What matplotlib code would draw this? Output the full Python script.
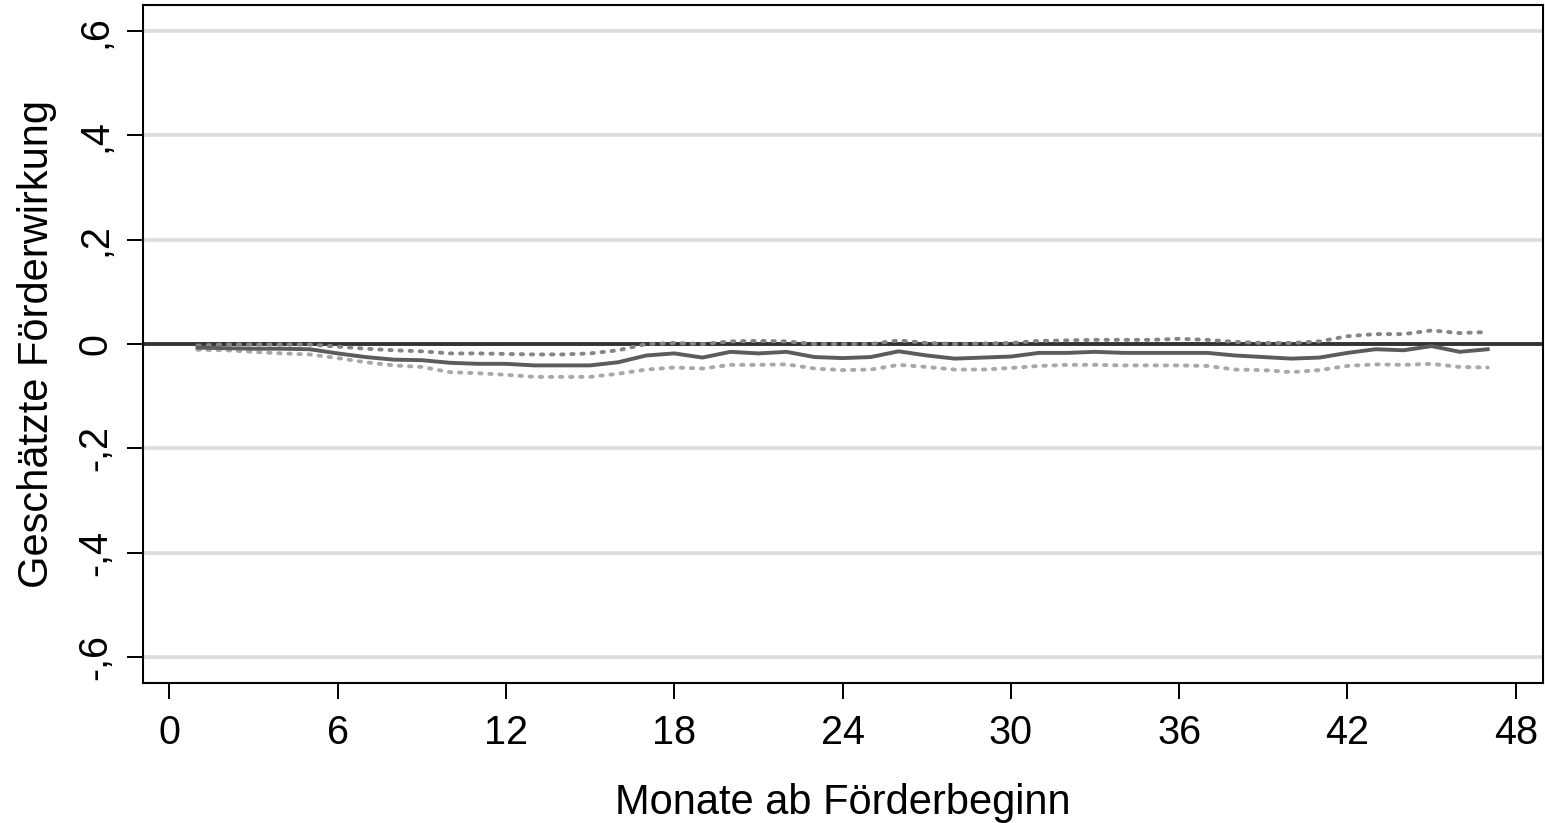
import numpy as np
import matplotlib.pyplot as plt

plt.rcParams['font.family'] = ['Liberation Sans', 'DejaVu Sans']

# Monate ab Förderbeginn
months = list(range(1, 48))

# geschätzte Förderwirkung (Punktschätzer)
effect = [-0.007, -0.008, -0.009, -0.009, -0.010, -0.018, -0.025, -0.030, -0.031, -0.036,
          -0.038, -0.038, -0.041, -0.041, -0.041, -0.035, -0.022, -0.018, -0.026, -0.015,
          -0.018, -0.015, -0.025, -0.027, -0.025, -0.014, -0.022, -0.028, -0.026, -0.024,
          -0.017, -0.017, -0.015, -0.017, -0.017, -0.017, -0.017, -0.022, -0.025, -0.028,
          -0.026, -0.017, -0.010, -0.012, -0.004, -0.015, -0.010]

# obere Grenze Konfidenzintervall
upper = [-0.003, -0.001, -0.001, -0.001, -0.001, -0.005, -0.009, -0.012, -0.014, -0.018,
         -0.018, -0.019, -0.020, -0.020, -0.018, -0.012, 0.000, 0.002, 0.000, 0.005,
         0.006, 0.005, 0.000, 0.000, 0.000, 0.007, 0.002, 0.000, 0.001, 0.002,
         0.006, 0.007, 0.008, 0.008, 0.008, 0.010, 0.008, 0.004, 0.002, 0.002,
         0.005, 0.015, 0.019, 0.019, 0.026, 0.021, 0.023]

# untere Grenze Konfidenzintervall
lower = [-0.011, -0.012, -0.015, -0.018, -0.020, -0.027, -0.035, -0.041, -0.044, -0.054,
         -0.056, -0.059, -0.063, -0.063, -0.063, -0.057, -0.049, -0.045, -0.047, -0.040,
         -0.040, -0.039, -0.047, -0.050, -0.049, -0.040, -0.044, -0.049, -0.049, -0.046,
         -0.042, -0.040, -0.040, -0.041, -0.041, -0.041, -0.042, -0.049, -0.050, -0.054,
         -0.050, -0.042, -0.039, -0.040, -0.038, -0.044, -0.045]

xticks = [0, 6, 12, 18, 24, 30, 36, 42, 48]
yticks = [-0.6, -0.4, -0.2, 0, 0.2, 0.4, 0.6]
ylabels = ['-,6', '-,4', '-,2', '0', ',2', ',4', ',6']

fig = plt.figure(figsize=(15.45, 8.23), dpi=100)
ax = fig.add_axes([0.0926, 0.1701, 0.9061, 0.8238])

for y in yticks:
    if y != 0:
        ax.axhline(y, color='#dcdcdc', linewidth=2.6, zorder=1)
ax.axhline(0, color='#333333', linewidth=2.8, zorder=2)

ax.plot(months, upper, color='#858585', linewidth=2.8, linestyle=(0, (0.6, 2.0)),
        dash_capstyle='round', zorder=3)
ax.plot(months, lower, color='#a8a8a8', linewidth=2.8, linestyle=(0, (0.6, 2.0)),
        dash_capstyle='round', zorder=3)
ax.plot(months, effect, color='#5c5c5c', linewidth=2.8, zorder=4)

ax.set_xlim(-0.94, 48.97)
ax.set_ylim(-0.65, 0.65)
ax.set_xticks(xticks)
ax.set_yticks(yticks)
ax.set_yticklabels(ylabels, rotation=90, va='center')

for s in ax.spines.values():
    s.set_linewidth(1.5)
ax.tick_params(axis='both', length=11.5, width=1.4, labelsize=28.5, pad=11)
ax.tick_params(axis='y', pad=9)

ax.set_xlabel('Monate ab Förderbeginn', fontsize=30, labelpad=22)
ax.set_ylabel('Geschätzte Förderwirkung', fontsize=30, labelpad=14)

fig.savefig('out.png', dpi=100)
